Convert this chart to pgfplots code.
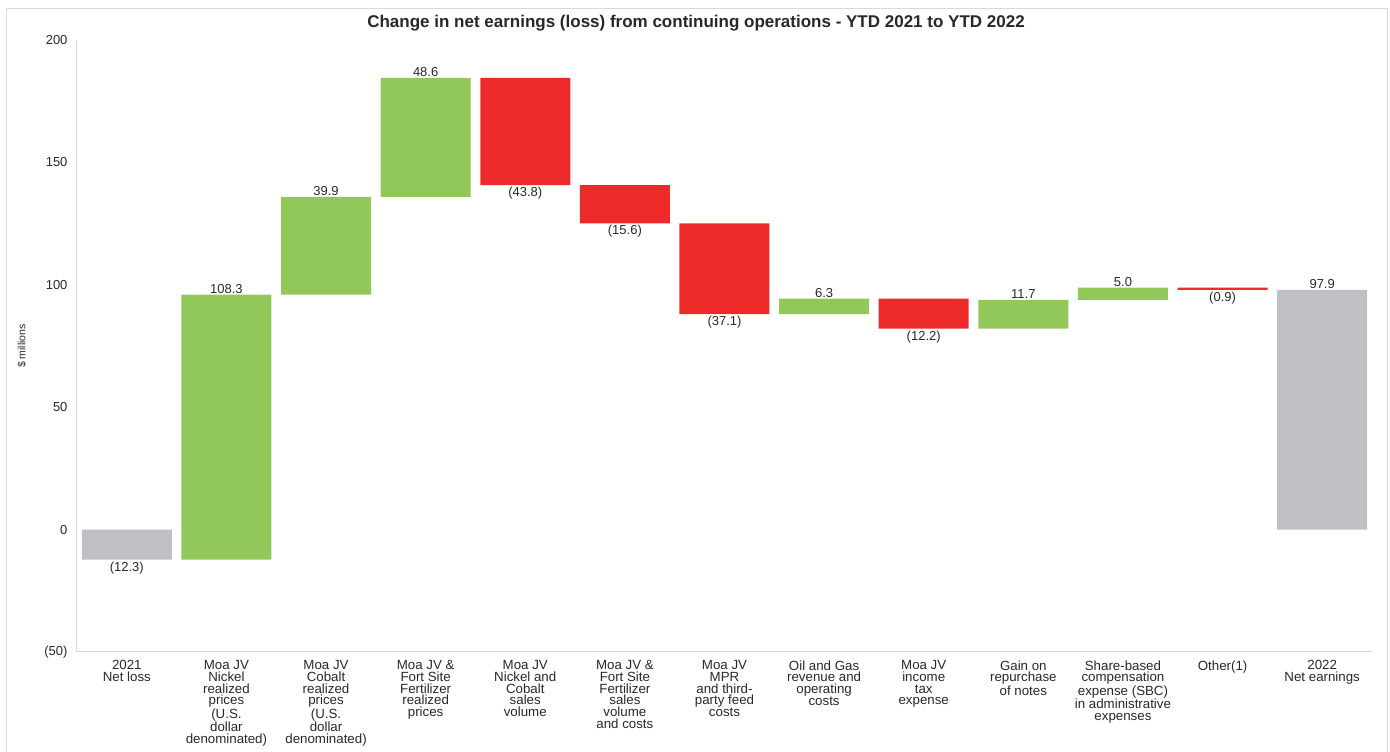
\documentclass[border=0pt]{standalone}
\usepackage{pgfplots}
\pgfplotsset{compat=1.18}
\usepackage{pgfplotstable}
\usepackage{fontspec}
\setmainfont{Liberation Sans}
\definecolor{wfgreen}{RGB}{146,200,90}
\definecolor{wfred}{RGB}{237,41,41}
\definecolor{wfgray}{RGB}{191,192,196}
\definecolor{axgray}{RGB}{217,217,217}
\definecolor{txt}{RGB}{40,40,40}

\pgfplotstableread{
x base up down total
0 0 0 0 -12.3
1 -12.3 108.3 0 0
2 96.0 39.9 0 0
3 135.9 48.6 0 0
4 184.5 0 -43.8 0
5 140.7 0 -15.6 0
6 125.1 0 -37.1 0
7 88.0 6.3 0 0
8 94.3 0 -12.2 0
9 82.1 11.7 0 0
10 93.8 5.0 0 0
11 98.8 0 -0.9 0
12 0 0 0 97.9
}\bars

\pgfplotstableread{
x y label
1 96.0 108.3
2 135.9 39.9
3 184.5 48.6
7 94.3 6.3
9 93.8 11.7
10 98.8 5.0
12 97.9 97.9
}\above

\pgfplotstableread{
x y label
0 -12.3 (12.3)
4 140.7 (43.8)
5 125.1 (15.6)
6 88.0 (37.1)
8 82.1 (12.2)
11 97.9 (0.9)
}\below

\begin{document}
\begin{tikzpicture}[x=1pt,y=1pt]
\useasboundingbox (0,0) rectangle (1390,752);
\draw[axgray, line width=0.8pt] (6,0) -- (6,744) -- (1387,744) -- (1387,0);
\node[anchor=center, text=txt, font=\bfseries\fontsize{17}{18}\selectfont] at (696,729) {Change in net earnings (loss) from continuing operations - YTD 2021 to YTD 2022};
\begin{axis}[
  at={(77pt,100pt)}, anchor=south west,
  scale only axis, width=1295pt, height=612pt,
  xmin=-0.5, xmax=12.5, ymin=-50, ymax=200,
  ybar stacked, stack negative=on previous, bar width=90pt,
  axis x line*=bottom, axis y line*=left,
  axis line style={axgray, line width=1pt, -},
  major tick length=0pt,
  /pgf/number format/assume math mode=true,
  ytick={-50,0,50,100,150,200},
  yticklabels={(50),0,50,100,150,200},
  yticklabel style={font=\fontsize{13}{14}\selectfont, text=txt, anchor=east, xshift=-6pt},
  xtick={0,...,12},
  xticklabels={
    {2021\\Net loss},
    {Moa JV\\Nickel\\realized\\prices\\(U.S.\\dollar\\denominated)},
    {Moa JV\\Cobalt\\realized\\prices\\(U.S.\\dollar\\denominated)},
    {Moa JV \&\\Fort Site\\Fertilizer\\realized\\prices},
    {Moa JV\\Nickel and\\Cobalt\\sales\\volume},
    {Moa JV \&\\Fort Site\\Fertilizer\\sales\\volume\\and costs},
    {Moa JV\\MPR\\and third-\\party feed\\costs},
    {Oil and Gas\\revenue and\\operating\\costs},
    {Moa JV\\income\\tax\\expense},
    {Gain on\\repurchase\\of notes},
    {Share-based\\compensation\\expense (SBC)\\in administrative\\expenses},
    {Other(1)},
    {2022\\Net earnings}},
  xticklabel style={font=\fontsize{13.3}{11.7}\selectfont, text=txt, align=center, anchor=north, yshift=-5pt},
  ylabel={\$ millions},
  ylabel style={at={(axis description cs:-0.0425,0.5)}, anchor=center, font=\fontsize{10.5}{12}\selectfont, text=txt},
]
\addplot[draw=none, fill=none] table[x=x, y=base] {\bars};
\addplot[draw=none, fill=wfgreen] table[x=x, y=up] {\bars};
\addplot[draw=none, fill=wfred] table[x=x, y=down] {\bars};
\addplot[draw=none, fill=wfgray] table[x=x, y=total] {\bars};
\end{axis}
\begin{axis}[
  at={(77pt,100pt)}, anchor=south west,
  scale only axis, width=1295pt, height=612pt,
  xmin=-0.5, xmax=12.5, ymin=-50, ymax=200,
  hide axis, clip=false,
]
\addplot[draw=none, mark=none, nodes near coords, point meta=explicit symbolic,
  nodes near coords style={anchor=south, inner sep=1pt, font=\fontsize{13}{14}\selectfont, text=txt}]
  table[x=x, y=y, meta=label] {\above};
\addplot[draw=none, mark=none, nodes near coords, point meta=explicit symbolic,
  nodes near coords style={anchor=north, inner sep=2pt, font=\fontsize{13}{14}\selectfont, text=txt}]
  table[x=x, y=y, meta=label] {\below};
\end{axis}
\end{tikzpicture}
\end{document}
